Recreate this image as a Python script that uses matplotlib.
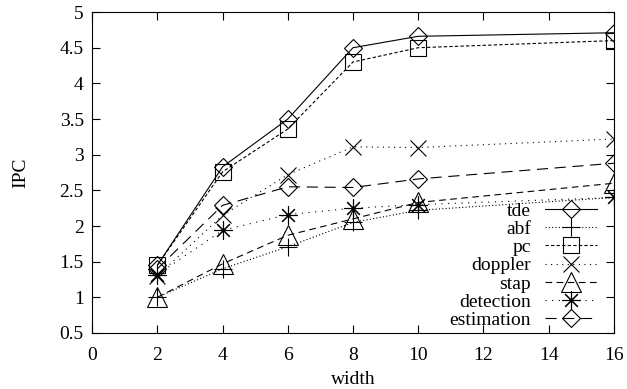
import matplotlib
matplotlib.use('Agg')
import matplotlib.pyplot as plt

plt.rcParams['font.family'] = ['Liberation Serif', 'DejaVu Serif']
plt.rcParams['font.size'] = 14

widths = [2, 4, 6, 8, 10, 16]
tde = [1.45, 2.83, 3.5, 4.5, 4.66, 4.71]
abf = [1.0, 1.4, 1.71, 2.05, 2.22, 2.4]
pc = [1.45, 2.76, 3.36, 4.3, 4.5, 4.6]
doppler = [1.3, 2.15, 2.72, 3.11, 3.1, 3.22]
stap = [1.0, 1.47, 1.87, 2.1, 2.33, 2.6]
detection = [1.32, 1.94, 2.16, 2.25, 2.3, 2.4]
estimation = [1.4, 2.29, 2.55, 2.54, 2.66, 2.88]

series = [
    ('tde', tde, 'D', '-', 9),
    ('abf', abf, '+', (0, (1, 2)), 13),
    ('pc', pc, 's', (0, (3, 2)), 11),
    ('doppler', doppler, 'x', (0, (1, 4)), 12),
    ('stap', stap, '^', (0, (6, 4)), 14),
    ('detection', detection, (8, 2, 0), (0, (1, 5)), 13),
    ('estimation', estimation, 'D', (0, (10, 6)), 9),
]

fig = plt.figure(figsize=(6.27, 3.89), dpi=100)
ax = fig.add_axes([0.147, 0.144, 0.832, 0.825])

for name, vals, mk, ls, ms in series:
    ax.plot(widths, vals, color='black', linestyle=ls, linewidth=0.8,
            marker=mk, markersize=ms, markerfacecolor='none',
            markeredgecolor='black', markeredgewidth=0.8, label=name)

ax.set_xlim(0, 16)
ax.set_ylim(0.5, 5)
ax.set_xticks(range(0, 17, 2))
ax.set_yticks([0.5, 1, 1.5, 2, 2.5, 3, 3.5, 4, 4.5, 5])
ax.set_yticklabels(['0.5', '1', '1.5', '2', '2.5', '3', '3.5', '4', '4.5', '5'])
ax.tick_params(direction='in', top=True, right=True, length=6, width=0.8)
ax.tick_params(axis='x', pad=10)
ax.tick_params(axis='y', pad=6)
for sp in ax.spines.values():
    sp.set_linewidth(0.8)

ax.set_xlabel('width', labelpad=5)
ax.set_ylabel('IPC', labelpad=22)

ax.legend(loc='lower right', bbox_to_anchor=(0.983, -0.012), frameon=False,
          markerfirst=False, handlelength=2.7, handletextpad=0.7,
          labelspacing=0.03, borderaxespad=0.0)

plt.savefig('out.png', dpi=100)
plt.close()
